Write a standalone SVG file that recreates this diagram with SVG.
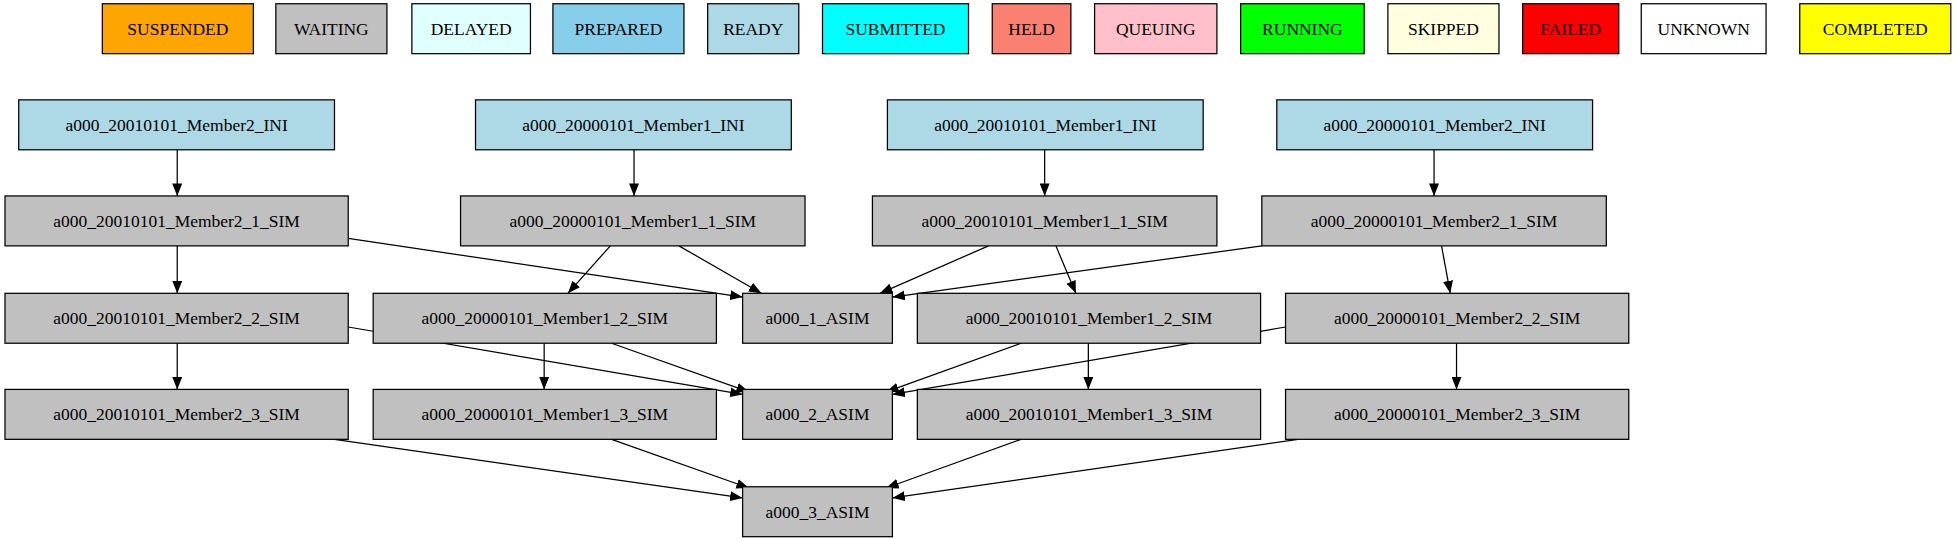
<svg xmlns="http://www.w3.org/2000/svg" width="1957" height="539" viewBox="0 0 1957 539">
<style>
text{font-family:"Liberation Serif","Times New Roman",serif;font-size:14px;text-anchor:middle;dominant-baseline:central;fill:#000}
rect{stroke:#000;stroke-width:1}
.w{fill:#c0c0c0}.r{fill:#add8e6}
#edges line{stroke:#000;stroke-width:1;marker-end:url(#ah)}
</style>
<defs><marker id="ah" markerUnits="userSpaceOnUse" markerWidth="11" markerHeight="8" refX="10" refY="4" orient="auto"><path d="M0,0L10,4L0,8z" fill="#000"/></marker></defs>
<rect width="1957" height="539" fill="#fff" style="stroke:none"/>
<g transform="scale(1.2481)">
<g id="legend">
<g id="l1"><rect x="82" y="3" width="121" height="40" fill="#ffa500"/><text x="142.5" y="23">SUSPENDED</text></g>
<g id="l2"><rect x="221" y="3" width="89" height="40" fill="#c0c0c0"/><text x="265.5" y="23">WAITING</text></g>
<g id="l3"><rect x="330" y="3" width="95" height="40" fill="#e0ffff"/><text x="377.5" y="23">DELAYED</text></g>
<g id="l4"><rect x="443" y="3" width="105" height="40" fill="#87ceeb"/><text x="495.5" y="23">PREPARED</text></g>
<g id="l5"><rect x="567" y="3" width="73" height="40" fill="#add8e6"/><text x="603.5" y="23">READY</text></g>
<g id="l6"><rect x="659" y="3" width="117" height="40" fill="#00ffff"/><text x="717.5" y="23">SUBMITTED</text></g>
<g id="l7"><rect x="795" y="3" width="63" height="40" fill="#fa8072"/><text x="826.5" y="23">HELD</text></g>
<g id="l8"><rect x="877" y="3" width="98" height="40" fill="#ffc0cb"/><text x="926" y="23">QUEUING</text></g>
<g id="l9"><rect x="994" y="3" width="99" height="40" fill="#00ff00"/><text x="1043.5" y="23">RUNNING</text></g>
<g id="l10"><rect x="1112" y="3" width="89" height="40" fill="#ffffe0"/><text x="1156.5" y="23">SKIPPED</text></g>
<g id="l11"><rect x="1220" y="3" width="77" height="40" fill="#ff0000"/><text x="1258.5" y="23">FAILED</text></g>
<g id="l12"><rect x="1315" y="3" width="100" height="40" fill="#ffffff"/><text x="1365" y="23">UNKNOWN</text></g>
<g id="l13"><rect x="1442" y="3" width="121" height="40" fill="#ffff00"/><text x="1502.5" y="23">COMPLETED</text></g>
</g>
<g id="edges">
<line x1="142" y1="120" x2="142" y2="157"/>
<line x1="508" y1="120" x2="508" y2="157"/>
<line x1="837" y1="120" x2="837" y2="157"/>
<line x1="1149" y1="120" x2="1149" y2="157"/>
<line x1="279" y1="191" x2="595" y2="238"/>
<line x1="489" y1="197" x2="455" y2="235"/>
<line x1="544" y1="197" x2="610" y2="235"/>
<line x1="792" y1="197" x2="705" y2="235"/>
<line x1="846" y1="197" x2="862" y2="235"/>
<line x1="1011" y1="197" x2="715" y2="238"/>
<line x1="1155" y1="197" x2="1162" y2="235"/>
<line x1="142" y1="197" x2="142" y2="235"/>
<line x1="279" y1="262" x2="595" y2="316"/>
<line x1="490" y1="275" x2="600" y2="314"/>
<line x1="818" y1="275" x2="710" y2="314"/>
<line x1="1030" y1="262" x2="715" y2="316"/>
<line x1="142" y1="275" x2="142" y2="312"/>
<line x1="436" y1="275" x2="436" y2="312"/>
<line x1="872" y1="275" x2="872" y2="312"/>
<line x1="1167" y1="275" x2="1167" y2="312"/>
<line x1="268" y1="352" x2="595" y2="399"/>
<line x1="490" y1="352" x2="600" y2="391"/>
<line x1="818" y1="352" x2="710" y2="391"/>
<line x1="1040" y1="352" x2="715" y2="399"/>
</g>
<g id="n1"><rect class="r" x="15" y="80" width="253" height="40"/><text x="141.5" y="100">a000_20010101_Member2_INI</text></g>
<g id="n2"><rect class="r" x="381" y="80" width="253" height="40"/><text x="507.5" y="100">a000_20000101_Member1_INI</text></g>
<g id="n3"><rect class="r" x="711" y="80" width="253" height="40"/><text x="837.5" y="100">a000_20010101_Member1_INI</text></g>
<g id="n4"><rect class="r" x="1023" y="80" width="253" height="40"/><text x="1149.5" y="100">a000_20000101_Member2_INI</text></g>
<g id="n5"><rect class="w" x="4" y="157" width="275" height="40"/><text x="141.5" y="177">a000_20010101_Member2_1_SIM</text></g>
<g id="n6"><rect class="w" x="369" y="157" width="276" height="40"/><text x="507" y="177">a000_20000101_Member1_1_SIM</text></g>
<g id="n7"><rect class="w" x="699" y="157" width="276" height="40"/><text x="837" y="177">a000_20010101_Member1_1_SIM</text></g>
<g id="n8"><rect class="w" x="1011" y="157" width="276" height="40"/><text x="1149" y="177">a000_20000101_Member2_1_SIM</text></g>
<g id="n9"><rect class="w" x="4" y="235" width="275" height="40"/><text x="141.5" y="255">a000_20010101_Member2_2_SIM</text></g>
<g id="n10"><rect class="w" x="299" y="235" width="275" height="40"/><text x="436.5" y="255">a000_20000101_Member1_2_SIM</text></g>
<g id="n11"><rect class="w" x="595" y="235" width="120" height="40"/><text x="655" y="255">a000_1_ASIM</text></g>
<g id="n12"><rect class="w" x="735" y="235" width="275" height="40"/><text x="872.5" y="255">a000_20010101_Member1_2_SIM</text></g>
<g id="n13"><rect class="w" x="1030" y="235" width="275" height="40"/><text x="1167.5" y="255">a000_20000101_Member2_2_SIM</text></g>
<g id="n14"><rect class="w" x="4" y="312" width="275" height="40"/><text x="141.5" y="332">a000_20010101_Member2_3_SIM</text></g>
<g id="n15"><rect class="w" x="299" y="312" width="275" height="40"/><text x="436.5" y="332">a000_20000101_Member1_3_SIM</text></g>
<g id="n16"><rect class="w" x="595" y="312" width="120" height="40"/><text x="655" y="332">a000_2_ASIM</text></g>
<g id="n17"><rect class="w" x="735" y="312" width="275" height="40"/><text x="872.5" y="332">a000_20010101_Member1_3_SIM</text></g>
<g id="n18"><rect class="w" x="1030" y="312" width="275" height="40"/><text x="1167.5" y="332">a000_20000101_Member2_3_SIM</text></g>
<g id="n19"><rect class="w" x="595" y="390" width="120" height="40"/><text x="655" y="410">a000_3_ASIM</text></g>
</g>
</svg>
